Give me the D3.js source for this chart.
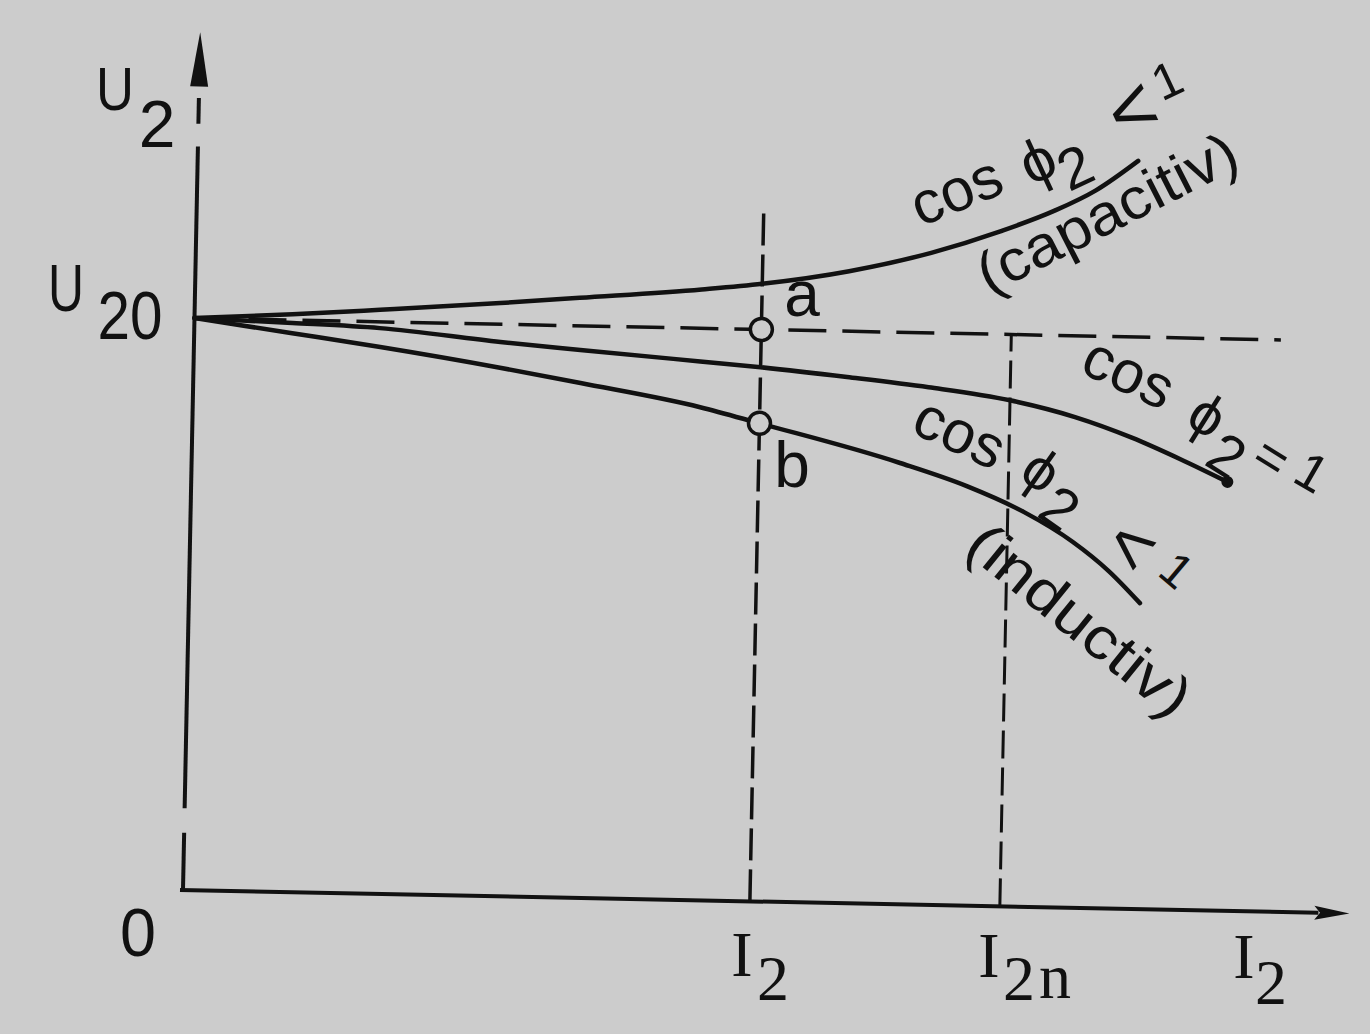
<!DOCTYPE html>
<html><head><meta charset="utf-8">
<script src="https://cdn.jsdelivr.net/npm/d3@7"></script>
<style>html,body{margin:0;padding:0;background:#cccccc;} svg{display:block;}</style>
</head><body>
<svg id="c" width="1370" height="1034"></svg>
<script>
// Data (I relative to I2n = 1, U relative to U20 = 1)
const capI = [0, 0.12, 0.227, 0.374, 0.471, 0.620, 0.694, 0.800, 0.900, 0.984, 1.050, 1.100, 1.151];
const capU = [1.0, 1.010, 1.021, 1.037, 1.049, 1.068, 1.080, 1.105, 1.140, 1.180, 1.218, 1.255, 1.308];
const resI = [0, 0.12, 0.227, 0.375, 0.473, 0.620, 0.694, 0.800, 0.900, 1.000, 1.080, 1.150, 1.210, 1.268];
const resU = [1.0, 0.995, 0.989, 0.969, 0.958, 0.942, 0.934, 0.920, 0.905, 0.885, 0.858, 0.824, 0.788, 0.750];
const indI = [0, 0.12, 0.228, 0.375, 0.474, 0.621, 0.694, 0.867, 0.950, 1.020, 1.080, 1.125, 1.164];
const indU = [1.0, 0.977, 0.956, 0.924, 0.900, 0.862, 0.836, 0.7715, 0.733, 0.690, 0.640, 0.590, 0.535];
const I2 = 0.694, I2n = 1.0, U20 = 1.0;
const xAxisEnd = 1.428, yAxisEnd = 1.5;
const yAxisSegments = [[0, 0.10], [0.143, 1.30], [1.34, 1.385]];

const svg = d3.select('#c');
svg.append('rect').attr('width', 1370).attr('height', 1034).attr('fill', '#cccccc');

const x = d3.scaleLinear().domain([0, 1]).range([183, 1000]);
const y = d3.scaleLinear().domain([0, 1]).range([890, 318]);
const g = svg.append('g').attr('transform', 'rotate(1.15,183,890)');
const ink = '#111';

// axes
g.selectAll('.ya').data(yAxisSegments).enter().append('line')
  .attr('x1', x(0)).attr('x2', x(0))
  .attr('y1', d => y(d[0])).attr('y2', d => y(d[1]))
  .attr('stroke', ink).attr('stroke-width', 4);
g.append('path')
  .attr('d', `M${x(0)},${y(yAxisEnd)} L${x(0) - 9},${y(1.405)} L${x(0) + 9},${y(1.405)} Z`)
  .attr('fill', ink);
g.append('line').attr('x1', x(0) - 3).attr('x2', x(1.39)).attr('y1', y(0)).attr('y2', y(0))
  .attr('stroke', ink).attr('stroke-width', 4);
g.append('path')
  .attr('d', `M${x(xAxisEnd)},${y(0)} L${x(1.385)},${y(0) - 7} L${x(1.392)},${y(0)} L${x(1.385)},${y(0) + 7} Z`)
  .attr('fill', ink);

// dashed guide lines
g.append('line').attr('x1', x(0)).attr('x2', x(1.33)).attr('y1', y(U20)).attr('y2', y(U20))
  .attr('stroke', ink).attr('stroke-width', 3.5).attr('stroke-dasharray', '38,16');
g.append('line').attr('x1', x(I2)).attr('x2', x(I2)).attr('y1', y(0)).attr('y2', y(1.21))
  .attr('stroke', ink).attr('stroke-width', 3.5).attr('stroke-dasharray', '32,9');
g.append('line').attr('x1', x(I2n)).attr('x2', x(I2n)).attr('y1', y(0)).attr('y2', y(1.0))
  .attr('stroke', ink).attr('stroke-width', 3).attr('stroke-dasharray', '28,9');

// curves
const line = d3.line().x(d => x(d[0])).y(d => y(d[1])).curve(d3.curveMonotoneX);
[[capI, capU], [resI, resU], [indI, indU]].forEach(([I, U]) => {
  g.append('path').attr('d', line(I.map((v, i) => [v, U[i]])))
    .attr('fill', 'none').attr('stroke', ink).attr('stroke-width', 4.5).attr('stroke-linecap', 'round');
});
g.append('circle').attr('cx', x(resI[resI.length - 1])).attr('cy', y(resU[resU.length - 1])).attr('r', 6).attr('fill', ink);

// marker circles
[[I2, U20], [I2, indU[indI.indexOf(I2)]]].forEach(p => {
  g.append('circle').attr('cx', x(p[0])).attr('cy', y(p[1])).attr('r', 11)
    .attr('fill', '#cccccc').attr('stroke', ink).attr('stroke-width', 3.5);
});

// text helper
function txt(t, cx, cy, opts = {}) {
  const s = opts.size || 60, rot = opts.rot || 0;
  const el = svg.append('text').text(t)
    .attr('x', cx).attr('y', cy)
    .attr('text-anchor', 'middle')
    .attr('dy', opts.dy || '0.35em')
    .attr('font-family', opts.serif ? '"Liberation Serif", serif' : '"Liberation Sans", "DejaVu Sans", sans-serif')
    .attr('font-size', s)
    .attr('fill', ink)
    .attr('transform', `rotate(${rot},${cx},${cy})`);
  if (opts.len) el.attr('textLength', opts.len).attr('lengthAdjust', 'spacingAndGlyphs');
  return el;
}
// axis labels
txt('U', 115, 88, {size: 62, len: 38});
txt('2', 157, 124, {size: 66});
txt('U', 66, 288, {size: 66, len: 36});
txt('20', 130, 315, {size: 68, len: 65});
txt('0', 138, 932, {size: 68, len: 36});
// x tick labels
txt('I', 742, 954, {size: 64, serif: true});
txt('2', 773, 978, {size: 64, serif: true});
txt('I', 989, 955, {size: 64, serif: true});
txt('2', 1019, 978, {size: 64, serif: true});
txt('n', 1055, 982, {size: 64, serif: true, dy: '0.25em'});
txt('I', 1244, 956, {size: 64, serif: true});
txt('2', 1271, 982, {size: 64, serif: true});
// point labels
txt('a', 802, 300, {size: 64, dy: '0.25em'});
txt('b', 792, 465, {size: 64, dy: '0.35em'});
// capacitive
txt('cos', 958, 195, {size: 60, rot: -22, dy: '0.26em'});
txt('ϕ', 1037, 160, {size: 60, rot: -25});
txt('2', 1075, 167, {size: 58, rot: -25});
txt('<', 1133, 112, {size: 80, rot: -25, dy: '0.3em'});
txt('1', 1167, 80, {size: 50, rot: -25});
txt('(capacitiv)', 1108, 215, {size: 58, rot: -27, len: 285, dy: '0.3em'});
// cos = 1
txt('cos', 1127, 377, {size: 60, rot: 25, dy: '0.26em'});
txt('ϕ', 1208, 415, {size: 58, rot: 32});
txt('2', 1227, 455, {size: 58, rot: 32});
txt('=', 1272, 457, {size: 54, rot: 32});
txt('1', 1312, 472, {size: 52, rot: 30});
// inductive
txt('cos', 958, 437, {size: 60, rot: 25, dy: '0.26em'});
txt('ϕ', 1042, 470, {size: 58, rot: 35});
txt('2', 1060, 508, {size: 58, rot: 35});
txt('<', 1130, 547, {size: 72, rot: 40, dy: '0.3em'});
txt('1', 1177, 570, {size: 48, rot: 40});
txt('(inductiv)', 1078, 622, {size: 58, rot: 39, len: 270, dy: '0.3em'});
</script>
</body></html>
